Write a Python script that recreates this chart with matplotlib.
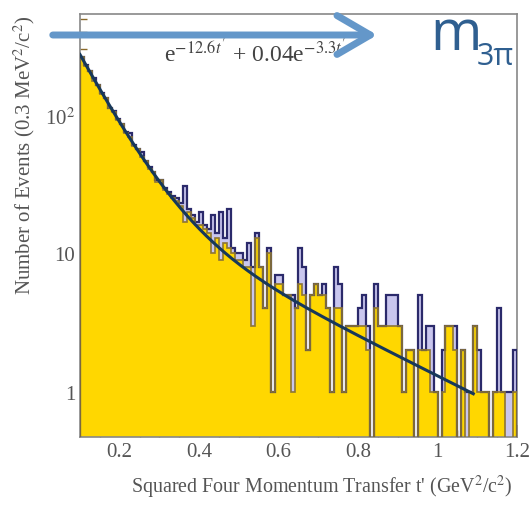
import numpy as np
import matplotlib
matplotlib.use("Agg")
import matplotlib.pyplot as plt

plt.rcParams['font.family'] = ['Liberation Serif', 'DejaVu Serif']
plt.rcParams['mathtext.fontset'] = 'stix'

# bin edges in t' (GeV^2/c^2)
t_lo, t_hi, n_bins = 0.10, 1.20, 110

# counts per bin, yellow histogram
yellow = [262, 228, 210, 178, 166, 142, 133, 112, 106, 92,
          86, 74, 70, 60, 57, 50, 47, 41, 39, 33,
          34, 29, 27, 25, 24, 22, 17, 20, 18, 16,
          16, 15, 14, 10, 13, 9, 12, 11, 10, 9,
          9, 8, 8, 3, 13, 8, 4, 10, 1, 6,
          6, 5, 5, 1, 4, 6, 5, 2, 5, 6,
          5, 5, 4, 1, 4, 4, 1, 3, 3, 3,
          3, 3, 2, 0, 4, 3, 3, 3, 3, 3,
          3, 1, 2, 2, 0, 2, 2, 2, 1, 1,
          0, 1, 3, 3, 2, 0, 2, 0, 1, 3,
          1, 1, 1, 0, 1, 1, 1, 0, 0, 1]

# counts per bin, blue histogram
blue = [262, 230, 210, 185, 166, 145, 133, 112, 108, 94,
        86, 76, 74, 61, 57, 54, 47, 42, 39, 34,
        34, 30, 28, 26, 25, 23, 31, 21, 19, 17,
        20, 16, 15, 19, 14, 20, 13, 21, 11, 10,
        10, 9, 12, 8, 14, 8, 4, 11, 1, 7,
        7, 5, 5, 5, 4, 11, 8, 2, 5, 6,
        5, 6, 4, 1, 8, 6, 1, 3, 3, 3,
        4, 5, 3, 0, 6, 3, 3, 5, 5, 5,
        3, 1, 2, 2, 0, 5, 2, 3, 3, 1,
        0, 2, 3, 3, 3, 0, 2, 1, 1, 3,
        2, 1, 1, 0, 1, 4, 1, 1, 1, 2]

# fit: A * (exp(-b1 t') + c * exp(-b2 t'))
fit_amp, fit_b1, fit_c, fit_b2 = 880.0, 12.6, 0.04, 3.3
fit_range = (0.10, 1.09)

edges = np.linspace(t_lo, t_hi, n_bins + 1)
floor = 1e-3
y_vals = np.where(np.array(yellow) > 0, yellow, floor)
b_vals = np.where(np.array(blue) > 0, blue, floor)

fig = plt.figure(figsize=(5.31, 5.06), dpi=100)
ax = fig.add_axes([80 / 531, 68 / 506, 437 / 531, 423 / 506])

ax.stairs(b_vals, edges, baseline=floor, fill=True, color='#c9c6ee', zorder=1)
ax.stairs(y_vals, edges, baseline=floor, fill=True, color='#ffd700', zorder=2)
ax.stairs(b_vals, edges, baseline=floor, color='#2b2a6b', lw=1.6, zorder=3)
ax.stairs(y_vals, edges, baseline=floor, color='#8c7536', lw=1.2, zorder=4)

tt = np.linspace(fit_range[0], fit_range[1], 300)
ff = fit_amp * (np.exp(-fit_b1 * tt) + fit_c * np.exp(-fit_b2 * tt))
ax.plot(tt, ff, color='#17385a', lw=2.2, zorder=5)

ax.set_yscale('log')
ax.set_xlim(t_lo, t_hi)
ax.set_ylim(0.47, 540)
ax.set_xticks([0.2, 0.4, 0.6, 0.8, 1.0, 1.2])
ax.set_xticklabels(['0.2', '0.4', '0.6', '0.8', '1', '1.2'])
ax.set_xticks(np.arange(0.15, 1.2, 0.05), minor=True)
ax.set_yticks([1, 10, 100])
ax.set_yticklabels(['1', '10', '10$^2$'])
ax.tick_params(which='both', direction='in', colors='#8a6a2a', labelcolor='#555555',
               labelsize=15, top=False, right=False)
ax.tick_params(which='major', length=9, width=1.2)
ax.tick_params(which='minor', length=5, width=1.0)
for s in ax.spines.values():
    s.set_color('#888888')
    s.set_linewidth(1.2)

ax.set_xlabel("Squared Four Momentum Transfer t' (GeV$^2$/c$^2$)", fontsize=14.4,
              color='#555555', ha='right')
ax.xaxis.set_label_coords(0.99, -0.085)
ax.set_ylabel("Number of Events (0.3 MeV$^2$/c$^2$)", fontsize=15,
              color='#555555', labelpad=6, loc='top')

ax.text(0.40, 0.91, "e$^{-12.6t'}$ + 0.04e$^{-3.3t'}$", transform=ax.transAxes,
        ha='center', va='center', fontsize=17, color='#444444', zorder=6)

# overlay arrow and label
fig.patches.append(matplotlib.patches.FancyArrowPatch(
    (50 / 531, 1 - 36 / 506), (380 / 531, 1 - 36 / 506), transform=fig.transFigure,
    arrowstyle='->,head_length=1.2,head_width=0.7', lw=5, color='#6497c9',
    mutation_scale=20, zorder=10))
fig.text(430 / 531, 1 - 36 / 506, "m", fontsize=40, color='#2f5f90',
         family=['Open Sans', 'DejaVu Sans'], ha='left', va='center')
fig.text(477 / 531, 1 - 57 / 506, "3π", fontsize=22, color='#2f5f90',
         family=['Open Sans', 'DejaVu Sans'], ha='left', va='center')

fig.savefig('out.png', dpi=100)
